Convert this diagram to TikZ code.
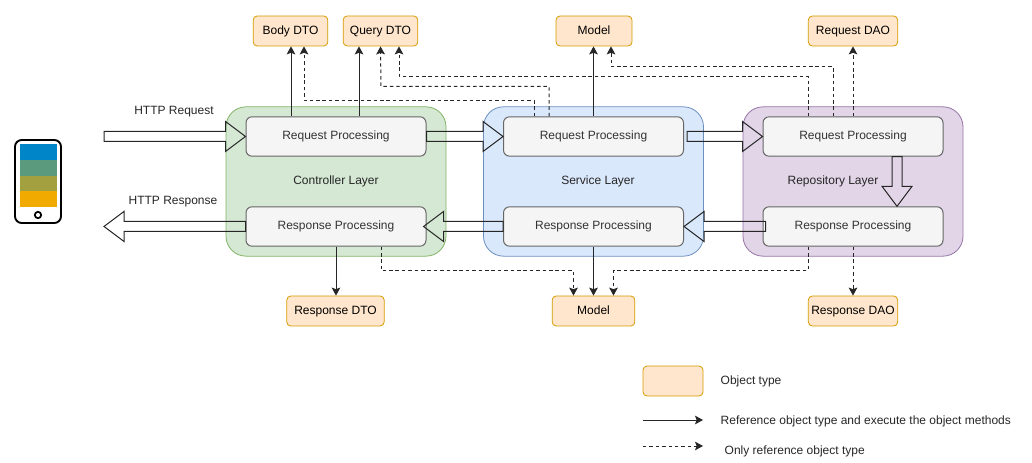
\documentclass[tikz,border=0pt]{standalone}
\usepackage{fontspec}
\setmainfont{Liberation Sans}
\usetikzlibrary{calc,arrows.meta}
\definecolor{greenFill}{HTML}{D5E8D4}
\definecolor{greenLine}{HTML}{82B366}
\definecolor{blueFill}{HTML}{DAE8FC}
\definecolor{blueLine}{HTML}{6C8EBF}
\definecolor{purpleFill}{HTML}{E1D5E7}
\definecolor{purpleLine}{HTML}{9673A6}
\definecolor{objFill}{HTML}{FFE6CC}
\definecolor{objLine}{HTML}{D79B00}
\tikzset{
	layer/.style={draw, rounded corners=15pt, line width=.6pt, minimum width=165pt, minimum height=112pt},
	proc/.style={draw=black!60, fill=black!4, text=black!80, rounded corners=4.5pt, line width=.75pt, minimum width=135pt, minimum height=29.5pt, text height=6.6pt, text depth=1.9pt},
	obj/.style={draw=objLine, fill=objFill, rounded corners=3pt, line width=.6pt, inner xsep=1pt, minimum height=22.5pt, text height=6.6pt, text depth=1.9pt},
	label/.style={text=black!85, text height=6.6pt, text depth=1.9pt},
	legendtext/.style={text=black!85, anchor=west, text height=6.6pt, text depth=1.9pt},
	ref/.style={->, draw=black!85, line width=.75pt},
	onlyref/.style={->, draw=black!85, line width=.75pt, dash pattern=on 2.6pt off 2.2pt},
	bigarrow/.style={draw=black!85, line width=.75pt, line join=miter},
}
% hollow arrow, the layers show through it
\newcommand{\bigarrow}[2]{%
	\path ($(#2)!15pt!(#1)$) coordinate (hb);
	\draw[bigarrow] ($(#1)!3.75pt!90:(#2)$) -- ($(hb)!3.75pt!90:(#2)$) -- ($(hb)!11.25pt!90:(#2)$) -- (#2)
		-- ($(hb)!11.25pt!-90:(#2)$) -- ($(hb)!3.75pt!-90:(#2)$) -- ($(#1)!3.75pt!-90:(#2)$) -- cycle;
}
\begin{document}
\begin{tikzpicture}[x=.75pt, y=-.75pt, font=\fontsize{9pt}{11pt}\selectfont, >={Stealth[length=6pt,width=6.5pt,inset=1.2pt]}, line join=round]
	\useasboundingbox (0,0) rectangle (1032,463);
	% phone
	\fill[fill={rgb,255:red,0;green,134;blue,200}] (20,144) rectangle (57,160.5);
	\fill[fill={rgb,255:red,92;green,154;blue,126}] (20,160) rectangle (57,176);
	\fill[fill={rgb,255:red,163;green,160;blue,64}] (20,176) rectangle (57,191.5);
	\fill[fill={rgb,255:red,240;green,170;blue,0}] (20,191) rectangle (57,207);
	\draw[line width=1.4pt, rounded corners=5pt] (15,140) rectangle (61,223);
	\draw[line width=1.3pt] (38,215) circle (3.2);
	% layers
	\node[layer, fill=greenFill, draw=greenLine] (ctrlLayer) at (336,181.5) {};
	\node[layer, fill=blueFill, draw=blueLine] (servLayer) at (593.5,181.5) {};
	\node[layer, fill=purpleFill, draw=purpleLine] (repoLayer) at (853,181.5) {};
	\node[label] (ctrlText) at (336,181) {Controller Layer};
	\node[label] (servText) at (598,181) {Service Layer};
	\node[label] (repoText) at (833,181) {Repository Layer};
	% processing boxes
	\foreach \name/\x in {C/336,S/593.5,R/853} {
		\node[proc] (req\name) at (\x,136.5) {Request Processing};
		\node[proc] (res\name) at (\x,226.5) {Response Processing};
	}
	% objects
	\node[obj, minimum width=56pt] (bodyDTO) at (290.5,31) {Body DTO};
	\node[obj, minimum width=56pt] (queryDTO) at (380.5,31) {Query DTO};
	\node[obj, minimum width=57pt] (modelTop) at (594,31) {Model};
	\node[obj, minimum width=67pt] (reqDAO) at (853,31) {Request DAO};
	\node[obj, minimum width=73pt] (resDTO) at (335.5,311) {Response DTO};
	\node[obj, minimum width=62pt] (modelBot) at (593.5,311) {Model};
	\node[obj, minimum width=67pt] (resDAO) at (853,311) {Response DAO};
	% http
	\node[label] (httpReq) at (174,111) {HTTP Request};
	\node[label] (httpRes) at (173,201) {HTTP Response};
	\coordinate (httpIn) at (104,136.5);
	\coordinate (httpOut) at (104,226.5);
	\bigarrow{httpIn}{reqC.west}
	\bigarrow{resC.west}{httpOut}
	\bigarrow{reqC.east}{reqS.west}
	\coordinate (sOut) at ($(reqS.east)+(3,0)$);
	\bigarrow{sOut}{reqR.west}
	\coordinate (cIn) at ($(resC.east)+(-3,0)$);
	\bigarrow{resS.west}{cIn}
	\coordinate (rOut) at ($(resR.west)+(3,0)$);
	\bigarrow{rOut}{resS.east}
	\coordinate (rDownA) at ($(reqR.south)+(44,0)$);
	\coordinate (rDownB) at ($(resR.north)+(44,0)$);
	\bigarrow{rDownA}{rDownB}
	% solid references
	\draw[ref] ($(reqC.north)+(-45,0)$) -- ($(bodyDTO.south)+(.5,0)$);
	\draw[ref] ($(reqC.north)+(23,0)$) -- ($(queryDTO.south)+(-21.5,0)$);
	\draw[ref] (reqS.north) -- (reqS.north |- modelTop.south);
	\draw[ref] (resC.south) -- (resC.south |- resDTO.north);
	\draw[ref] (resS.south) -- (resS.south |- modelBot.north);
	% dashed references
	\draw[onlyref] ($(reqS.north)+(-59.5,0)$) |- ($(bodyDTO.south)+(13.5,54)$) -- ($(bodyDTO.south)+(13.5,0)$);
	\draw[onlyref] ($(reqS.north)+(-44.5,0)$) |- ($(queryDTO.south)+(.5,40)$) -- (queryDTO.south);
	\draw[onlyref] ($(reqR.north)+(-45,0)$) |- ($(queryDTO.south)+(18.5,30)$) -- ($(queryDTO.south)+(18.5,0)$);
	\draw[onlyref] ($(reqR.north)+(-20,0)$) |- ($(modelTop.south)+(17,20)$) -- ($(modelTop.south)+(17,0)$);
	\draw[onlyref] (reqR.north) -- (reqR.north |- reqDAO.south);
	\draw[onlyref] ($(resC.south)+(45,0)$) |- ($(modelBot.north)+(-20,-25)$) -- ($(modelBot.north)+(-20,0)$);
	\draw[onlyref] ($(resR.south)+(-45,0)$) |- ($(modelBot.north)+(20,-25)$) -- ($(modelBot.north)+(20,0)$);
	\draw[onlyref] (resR.south) -- (resR.south |- resDAO.north);
	% legend
	\node[obj, minimum width=45pt] (keyObj) at (673,381) {};
	\node[legendtext] (keyObjText) at (716,381) {Object type};
	\coordinate (keyRefA) at (643,420);
	\coordinate (keyRefB) at (703,420);
	\draw[ref] (keyRefA) -- (keyRefB);
	\node[legendtext] (keyRefText) at (716,421) {Reference object type and execute the object methods};
	\coordinate (keyOnlyA) at (643,446);
	\coordinate (keyOnlyB) at (703,446);
	\draw[onlyref] (keyOnlyA) -- (keyOnlyB);
	\node[legendtext] (keyOnlyText) at (720,451) {Only reference object type};
\end{tikzpicture}
\end{document}
